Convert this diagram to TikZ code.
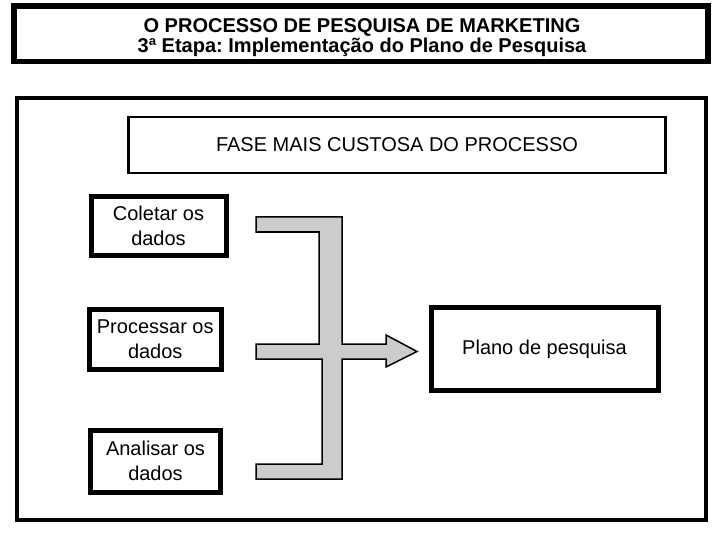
\documentclass[tikz,border=0pt]{standalone}
\usepackage{fontspec}
\setmainfont{Liberation Sans}
\usepackage{tikz}
\usepackage{xcolor}
\frenchspacing

\begin{document}
\begin{tikzpicture}[x=1pt, y=-1pt,
    box/.style={draw=black, line width=5pt, fill=white, inner sep=0pt, align=center,
        font=\fontsize{20}{25}\selectfont},
    titletext/.style={inner sep=0pt, align=center,
        font=\fontsize{20}{20.5}\selectfont\bfseries}]
\useasboundingbox (0,0) rectangle (720,540);
\draw[line width=5.5pt] (14,6) rectangle (708,61.5);
\node[titletext] (title) at (362,37.5)
    {O PROCESSO DE PESQUISA DE MARKETING\\3ª Etapa: Implementação do Plano de Pesquisa};
\draw[line width=4pt] (17,98.5) rectangle (705.5,519.5);
\node[box, line width=2.5pt, minimum width=537, minimum height=56] (fase) at (397,145)
    {FASE MAIS CUSTOSA DO PROCESSO};
\node[box, minimum width=135, minimum height=59] (coletar) at (158.5,226) {Coletar os\\dados};
\node[box, minimum width=131.5, minimum height=60] (processar) at (155.25,339.5) {Processar os\\dados};
\node[box, minimum width=130, minimum height=61.5] (analisar) at (155.5,461.25) {Analisar os\\dados};
\node[box, minimum width=227, minimum height=83] (plano) at (544.5,349) {Plano de pesquisa};
\filldraw[fill=black!20, draw=black, line width=1.5pt, line join=miter]
    (256,217) -- (342,217) -- (342,344) -- (386,344) -- (386,335) -- (417,351.5)
    -- (386,367) -- (386,359) -- (342,359) -- (342,479) -- (256,479) -- (256,464)
    -- (322,464) -- (322,359) -- (256,359) -- (256,344) -- (319,344) -- (319,232)
    -- (256,232) -- cycle;
\end{tikzpicture}
\end{document}
